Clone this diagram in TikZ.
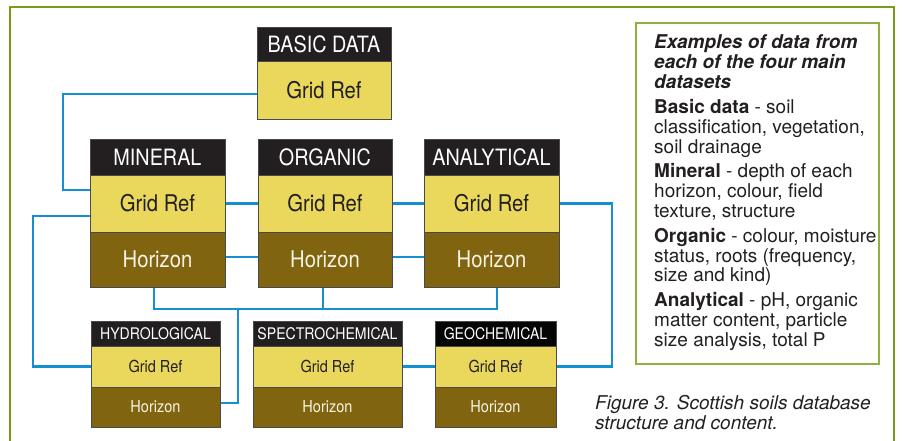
\documentclass[tikz,border=0pt]{standalone}
\usepackage{fontspec}
\setmainfont{TeX Gyre Heros}
\newfontfamily\dfont{TeX Gyre Heros}[FakeStretch=0.88]
\usetikzlibrary{backgrounds,calc}
\definecolor{hdrfill}{HTML}{231F20}
\definecolor{geofill}{HTML}{050505}
\definecolor{gridfill}{HTML}{E9D85C}
\definecolor{horfill}{HTML}{80640F}
\definecolor{boxline}{HTML}{4A4A48}
\definecolor{connblue}{HTML}{1490D2}
\definecolor{framegreen}{HTML}{7A9C1A}
\definecolor{panelgreen}{HTML}{8DB040}
\definecolor{hortext}{HTML}{F8F4E6}
\tikzset{
  part/.style={draw=boxline, line width=0.9pt, rectangle, inner sep=0pt, outer sep=0pt},
  hdrbig/.style={part, fill=hdrfill, text=white, minimum width=135, minimum height=36, font=\dfont\fontsize{22.5}{24}\selectfont},
  gridbig/.style={part, fill=gridfill, text=hdrfill, minimum width=135, minimum height=57, font=\dfont\fontsize{23}{25}\selectfont},
  horbig/.style={part, fill=horfill, text=hortext, minimum width=135, minimum height=55, font=\dfont\fontsize{23}{25}\selectfont},
  hdrsmall/.style={part, fill=hdrfill, text=white, minimum height=25, font=\dfont\fontsize{16}{18}\selectfont},
  gridsmall/.style={part, fill=gridfill, text=hdrfill, minimum height=41, font=\dfont\fontsize{16.5}{18}\selectfont},
  horsmall/.style={part, fill=horfill, text=hortext, minimum height=40, font=\dfont\fontsize{16.5}{18}\selectfont},
  conn/.style={draw=connblue, line width=2.8pt},
}
\begin{document}
\begin{tikzpicture}[x=1pt,y=-1pt]
\useasboundingbox (0,0) rectangle (906,440);
% outer frame
\draw[framegreen, line width=2pt] (10,441) -- (10,7) -- (894,7) -- (894,441);
% side panel
\draw[panelgreen, line width=1.2pt] (636,23) rectangle (879,364);

% BASIC DATA
\node[hdrbig, minimum width=134, minimum height=34] (basH) at (324,44) {BASIC DATA};
\node[gridbig, minimum width=134, minimum height=58] (basG) at (324,90) {Grid Ref};

% MINERAL
\node[hdrbig] (minH) at (157.5,157) {MINERAL};
\node[gridbig] (minG) at (157.5,203.5) {Grid Ref};
\node[horbig] (minZ) at (157.5,259.5) {Horizon};
% ORGANIC
\node[hdrbig, minimum width=134] (orgH) at (325,157) {ORGANIC};
\node[gridbig, minimum width=134] (orgG) at (325,203.5) {Grid Ref};
\node[horbig, minimum width=134] (orgZ) at (325,259.5) {Horizon};
% ANALYTICAL
\node[hdrbig] (anaH) at (491.5,157) {ANALYTICAL};
\node[gridbig] (anaG) at (491.5,203.5) {Grid Ref};
\node[horbig] (anaZ) at (491.5,259.5) {Horizon};

% HYDROLOGICAL
\node[hdrsmall, minimum width=129] (hydH) at (155.5,333.5) {HYDROLOGICAL};
\node[gridsmall, minimum width=129] (hydG) at (155.5,366.5) {Grid Ref};
\node[horsmall, minimum width=129] (hydZ) at (155.5,407) {Horizon};
% SPECTROCHEMICAL
\node[hdrsmall, minimum width=149] (speH) at (327.5,333.5) {SPECTROCHEMICAL};
\node[gridsmall, minimum width=149] (speG) at (327.5,366.5) {Grid Ref};
\node[horsmall, minimum width=149] (speZ) at (327.5,407) {Horizon};
% GEOCHEMICAL
\node[hdrsmall, fill=geofill, minimum width=121] (geoH) at (495.5,333.5) {GEOCHEMICAL};
\node[gridsmall, minimum width=121] (geoG) at (495.5,366.5) {Grid Ref};
\node[horsmall, minimum width=121] (geoZ) at (495.5,407) {Horizon};

\begin{scope}[on background layer]
% basic -> mineral
\draw[conn] (basG.west |- 0,94) -- (63,94) -- (63,190) -- (minG.west |- 0,190);
% mineral -> hydrological
\draw[conn] (minG.west |- 0,216) -- (33,216) -- (33,366.5) -- (hydG.west);
% grid ref row
\draw[conn] (minG.east) -- (orgG.west);
\draw[conn] (orgG.east) -- (anaG.west);
% horizon row
\draw[conn] (minZ.east |- 0,257) -- (orgZ.west |- 0,257);
\draw[conn] (orgZ.east |- 0,257) -- (anaZ.west |- 0,257);
% horizon bus
\coordinate (busL) at ($(minZ.south)+(-3.5,0)$);
\coordinate (busR) at ($(anaZ.south)+(5.5,0)$);
\coordinate (busM) at ($(orgZ.south)+(-2,0)$);
\draw[conn] (busL) -- (busL |- 0,309) -- (busR |- 0,309) -- (busR);
\draw[conn] (busM) -- (busM |- 0,309);
\draw[conn] (238,309) -- (238,403) -- (hydZ.east |- 0,403);
% analytical -> geochemical
\draw[conn] (anaG.east) -- (612,203.5) -- (612,366.5) -- (geoG.east);
% spectro -> geo
\draw[conn] (speG.east) -- (geoG.west);
\end{scope}

% panel text
\node[anchor=north west, inner sep=0pt, align=left, text=hdrfill,
      font=\fontsize{19}{19.8}\selectfont] (panel) at (654,34.5)
{\textbf{\textit{Examples of data from}}\\
 \textbf{\textit{each of the four main}}\\
 \textbf{\textit{datasets}}\\[5.5pt]
 \textbf{Basic data} - soil\\
 classification, vegetation,\\
 soil drainage\\[5pt]
 \textbf{Mineral} - depth of each\\
 horizon, colour, field\\
 texture, structure\\[5pt]
 \textbf{Organic} - colour, moisture\\
 status, roots (frequency,\\
 size and kind)\\[5pt]
 \textbf{Analytical} - pH, organic\\
 matter content, particle\\
 size analysis, total P};

% caption
\node[anchor=north west, inner sep=0pt, align=left, text=hdrfill,
      font=\itshape\fontsize{19}{20}\selectfont] (caption) at (595,395)
{Figure 3. Scottish soils database\\
 structure and content.};
\end{tikzpicture}
\end{document}
